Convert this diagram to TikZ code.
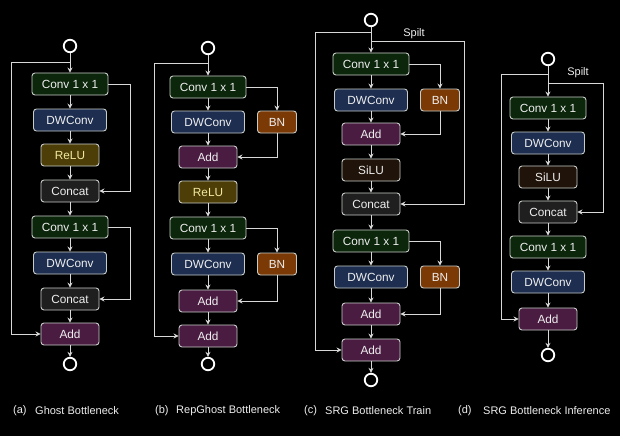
\documentclass[tikz,border=0pt]{standalone}
\usepackage{fontspec}
\setmainfont{Liberation Sans}
\usetikzlibrary{arrows.meta}
\definecolor{boxline}{HTML}{C8CCC8}
\definecolor{linec}{HTML}{D8D8D8}
\definecolor{txt}{HTML}{EEEEEE}
\definecolor{convc}{HTML}{0C260C}
\definecolor{dwc}{HTML}{1D2E50}
\definecolor{reluc}{HTML}{4C3E06}
\definecolor{relut}{HTML}{F2E8A0}
\definecolor{catc}{HTML}{1F1F1F}
\definecolor{addc}{HTML}{4A1C42}
\definecolor{bnc}{HTML}{7A3905}
\definecolor{siluc}{HTML}{20130A}
\tikzset{
 box/.style={draw=boxline, rounded corners=3pt, line width=0.9pt, minimum height=22pt, inner sep=0pt, text=txt, font=\fontsize{11.8}{13}\selectfont},
 conv/.style={box, fill=convc, minimum width=76pt},
 dw/.style={box, fill=dwc, minimum width=73pt},
 relu/.style={box, fill=reluc, minimum width=58pt, text=relut},
 cat/.style={box, fill=catc, minimum width=58pt},
 addb/.style={box, fill=addc, minimum width=58pt},
 bn/.style={box, fill=bnc, minimum width=39pt},
 silu/.style={box, fill=siluc, minimum width=58pt},
 io/.style={circle, draw=white, line width=1.8pt, minimum size=12.5pt, inner sep=0pt},
 arr/.style={draw=linec, line width=1pt, -{Stealth[length=5pt,width=5pt]}},
 ln/.style={draw=linec, line width=1pt},
 captxt/.style={text=txt, font=\fontsize{11}{13}\selectfont, inner sep=0pt, anchor=west},
}
\begin{document}
\begin{tikzpicture}[x=1pt,y=-1pt]
\fill[black] (0,0) rectangle (620,436);
\useasboundingbox (0,0) rectangle (620,436);

% ---------- (a) ----------
\node[io] (ia) at (70,46) {};
\node[conv] (ca1) at (70,84) {Conv 1 x 1};
\node[dw] (da1) at (70,120) {DWConv};
\node[relu] (ra1) at (70,155) {ReLU};
\node[cat] (ka1) at (70,191) {Concat};
\node[conv] (ca2) at (70,227) {Conv 1 x 1};
\node[dw] (da2) at (70,263) {DWConv};
\node[cat] (ka2) at (70,299) {Concat};
\node[addb] (aa) at (70,334) {Add};
\node[io] (oa) at (70,364) {};
\coordinate (sa) at (70,62);
\coordinate (la) at (11,62);
\coordinate (ra) at (130,84);
\coordinate (rb) at (130,227);
\draw[arr] (ia) -- (ca1);
\draw[arr] (ca1) -- (da1);
\draw[arr] (da1) -- (ra1);
\draw[arr] (ra1) -- (ka1);
\draw[arr] (ka1) -- (ca2);
\draw[arr] (ca2) -- (da2);
\draw[arr] (da2) -- (ka2);
\draw[arr] (ka2) -- (aa);
\draw[arr] (aa) -- (oa);
\draw[arr] (sa) -- (la) |- (aa.west);
\draw[arr] (ca1.east) -- (ra) |- (ka1.east);
\draw[arr] (ca2.east) -- (rb) |- (ka2.east);

% ---------- (b) ----------
\node[io] (ib) at (208,48) {};
\node[conv] (cb1) at (208,87) {Conv 1 x 1};
\node[dw] (db1) at (208,122) {DWConv};
\node[bn] (bb1) at (277,122) {BN};
\node[addb] (ab1) at (208,157) {Add};
\node[relu] (rb1) at (208,192) {ReLU};
\node[conv] (cb2) at (208,228) {Conv 1 x 1};
\node[dw] (db2) at (208,264) {DWConv};
\node[bn] (bb2) at (277,264) {BN};
\node[addb] (ab2) at (208,301) {Add};
\node[addb] (ab3) at (208,336) {Add};
\node[io] (ob) at (208,364) {};
\coordinate (sb) at (208,63);
\coordinate (lb) at (154,63);
\draw[arr] (ib) -- (cb1);
\draw[arr] (cb1) -- (db1);
\draw[arr] (db1) -- (ab1);
\draw[arr] (ab1) -- (rb1);
\draw[arr] (rb1) -- (cb2);
\draw[arr] (cb2) -- (db2);
\draw[arr] (db2) -- (ab2);
\draw[arr] (ab2) -- (ab3);
\draw[arr] (ab3) -- (ob);
\draw[arr] (sb) -- (lb) |- (ab3.west);
\draw[arr] (cb1.east) -| (bb1.north);
\draw[arr] (bb1.south) |- (ab1.east);
\draw[arr] (cb2.east) -| (bb2.north);
\draw[arr] (bb2.south) |- (ab2.east);

% ---------- (c) ----------
\node[io] (ic) at (371,20) {};
\node[conv] (cc1) at (371,64) {Conv 1 x 1};
\node[dw] (dc1) at (371,100) {DWConv};
\node[bn] (bc1) at (440,100) {BN};
\node[addb] (ac1) at (371,134) {Add};
\node[silu] (sc1) at (371,170) {SiLU};
\node[cat] (kc1) at (371,204) {Concat};
\node[conv] (cc2) at (371,241) {Conv 1 x 1};
\node[dw] (dc2) at (371,277) {DWConv};
\node[bn] (bc2) at (440,277) {BN};
\node[addb] (ac2) at (371,314) {Add};
\node[addb] (ac3) at (371,350) {Add};
\node[io] (oc) at (371,380) {};
\coordinate (sc) at (371,33);
\coordinate (lc) at (315,33);
\coordinate (pc) at (371,42);
\coordinate (qc) at (464,42);
\node[text=txt, font=\fontsize{11}{13}\selectfont, inner sep=0pt] (tc) at (414,34) {Spilt};
\draw[arr] (ic) -- (cc1);
\draw[arr] (cc1) -- (dc1);
\draw[arr] (dc1) -- (ac1);
\draw[arr] (ac1) -- (sc1);
\draw[arr] (sc1) -- (kc1);
\draw[arr] (kc1) -- (cc2);
\draw[arr] (cc2) -- (dc2);
\draw[arr] (dc2) -- (ac2);
\draw[arr] (ac2) -- (ac3);
\draw[arr] (ac3) -- (oc);
\draw[arr] (sc) -- (lc) |- (ac3.west);
\draw[arr] (pc) -- (qc) |- (kc1.east);
\draw[arr] (cc1.east) -| (bc1.north);
\draw[arr] (bc1.south) |- (ac1.east);
\draw[arr] (cc2.east) -| (bc2.north);
\draw[arr] (bc2.south) |- (ac2.east);

% ---------- (d) ----------
\node[io] (id) at (548,59) {};
\node[conv] (cd1) at (548,108) {Conv 1 x 1};
\node[dw] (dd1) at (548,143) {DWConv};
\node[silu] (sd1) at (548,177) {SiLU};
\node[cat] (kd1) at (548,212) {Concat};
\node[conv] (cd2) at (548,247) {Conv 1 x 1};
\node[dw] (dd2) at (548,282) {DWConv};
\node[addb] (ad) at (548,319) {Add};
\node[io] (od) at (548,355) {};
\coordinate (sd) at (548,74);
\coordinate (ld) at (501,74);
\coordinate (pd) at (548,83);
\coordinate (qd) at (603,83);
\node[text=txt, font=\fontsize{11}{13}\selectfont, inner sep=0pt] (td) at (578,73) {Spilt};
\draw[arr] (id) -- (cd1);
\draw[arr] (cd1) -- (dd1);
\draw[arr] (dd1) -- (sd1);
\draw[arr] (sd1) -- (kd1);
\draw[arr] (kd1) -- (cd2);
\draw[arr] (cd2) -- (dd2);
\draw[arr] (dd2) -- (ad);
\draw[arr] (ad) -- (od);
\draw[arr] (sd) -- (ld) |- (ad.west);
\draw[arr] (pd) -- (qd) |- (kd1.east);

% ---------- captions ----------
\node[captxt] (c1) at (13,411) {(a)};
\node[captxt] (c2) at (35,411) {Ghost Bottleneck};
\node[captxt] (c3) at (155,411) {(b)};
\node[captxt] (c4) at (176,411) {RepGhost Bottleneck};
\node[captxt] (c5) at (304,411) {(c)};
\node[captxt] (c6) at (325,411) {SRG Bottleneck Train};
\node[captxt] (c7) at (458,411) {(d)};
\node[captxt] (c8) at (483,411) {SRG Bottleneck Inference};
\end{tikzpicture}
\end{document}
